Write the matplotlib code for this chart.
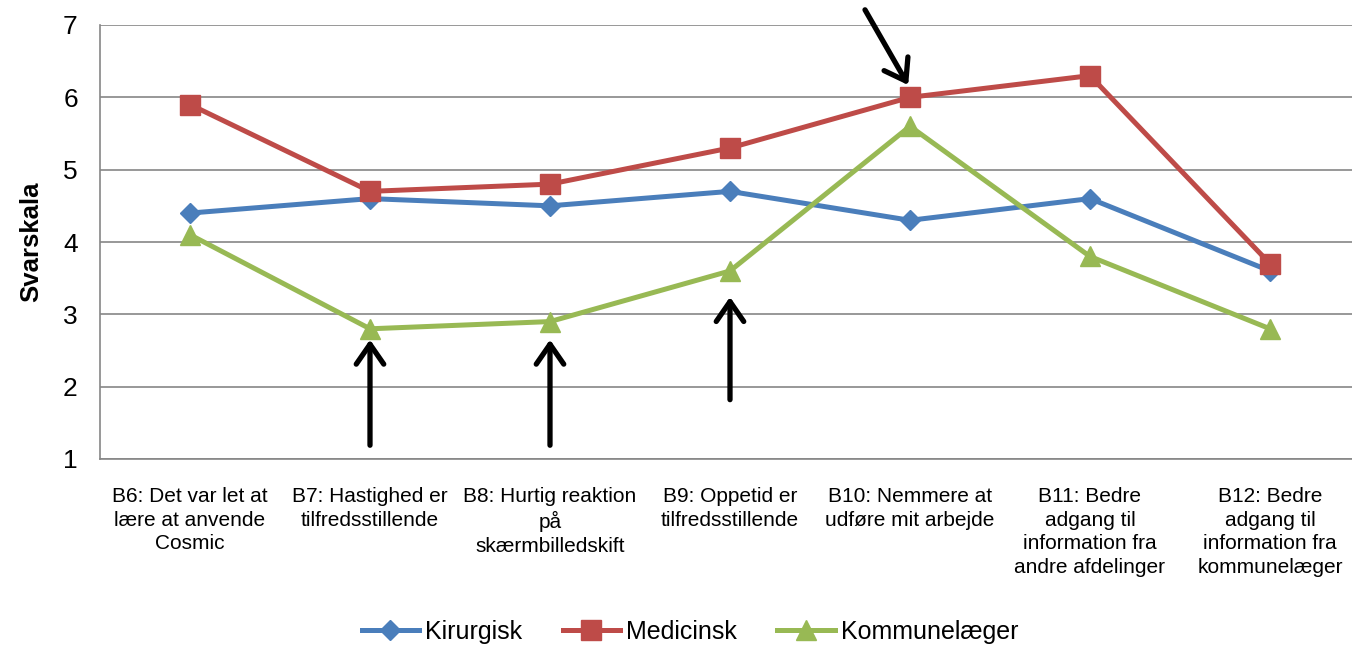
import matplotlib
matplotlib.use("Agg")
import matplotlib.pyplot as plt

# Kategorier og svar
categories = [
    "B6: Det var let at\nlære at anvende\nCosmic",
    "B7: Hastighed er\ntilfredsstillende",
    "B8: Hurtig reaktion\npå\nskærmbilledskift",
    "B9: Oppetid er\ntilfredsstillende",
    "B10: Nemmere at\nudføre mit arbejde",
    "B11: Bedre\nadgang til\ninformation fra\nandre afdelinger",
    "B12: Bedre\nadgang til\ninformation fra\nkommunelæger",
]
kirurgisk = [4.4, 4.6, 4.5, 4.7, 4.3, 4.6, 3.6]
medicinsk = [5.9, 4.7, 4.8, 5.3, 6.0, 6.3, 3.7]
kommunelaeger = [4.1, 2.8, 2.9, 3.6, 5.6, 3.8, 2.8]
yticks = [1, 2, 3, 4, 5, 6, 7]

# Pile: (x-hale, y-hale, x-spids, y-spids)
arrows = [
    (1, 1.19, 1, 2.65),
    (2, 1.19, 2, 2.65),
    (3, 1.82, 3, 3.24),
    (3.75, 7.21, 3.99, 6.17),
]

plt.rcParams['font.family'] = ['Liberation Sans', 'DejaVu Sans']

fig = plt.figure(figsize=(13.52, 6.48), dpi=100)
ax = fig.add_axes([100 / 1352, 189 / 648, 1260 / 1352, 434 / 648])

x = list(range(len(categories)))
ax.plot(x, kirurgisk, color='#4A7EBB', lw=3.6, marker='D', markersize=10,
        label='Kirurgisk', zorder=3)
ax.plot(x, medicinsk, color='#BE4B48', lw=3.6, marker='s', markersize=14,
        label='Medicinsk', zorder=3)
ax.plot(x, kommunelaeger, color='#98B954', lw=3.6, marker='^', markersize=14,
        label='Kommunelæger', zorder=3)

for x0, y0, x1, y1 in arrows:
    ax.annotate('', xy=(x1, y1), xytext=(x0, y0), textcoords='data',
                arrowprops=dict(arrowstyle='->,head_length=0.65,head_width=0.45',
                                lw=3.8, color='black', mutation_scale=22,
                                shrinkA=0, shrinkB=0),
                annotation_clip=False, zorder=4)

ax.set_xlim(-0.5, 6.5)
ax.set_ylim(1, 7)
ax.set_yticks(yticks)
ax.set_xticks(x)
ax.set_xticklabels(categories, fontsize=15, linespacing=1.32)
ax.tick_params(axis='x', length=0, pad=20)
ax.tick_params(axis='y', length=0, pad=16, labelsize=19)
ax.yaxis.grid(True, color='#868686', lw=1.2)
ax.set_axisbelow(True)
for s in ['top', 'right']:
    ax.spines[s].set_visible(False)
for s in ['left', 'bottom']:
    ax.spines[s].set_color('#868686')
    ax.spines[s].set_linewidth(1.2)

ax.set_ylabel('Svarskala', fontsize=18.5, fontweight='bold')
ax.yaxis.set_label_coords(-0.045, 0.5)

fig.legend(loc='center', bbox_to_anchor=(690 / 1352, 1 - 632 / 648), ncol=3,
           frameon=False, fontsize=18, handlelength=2.3, handletextpad=0.25,
           columnspacing=1.6, borderaxespad=0)

fig.savefig('out.png', dpi=100)
